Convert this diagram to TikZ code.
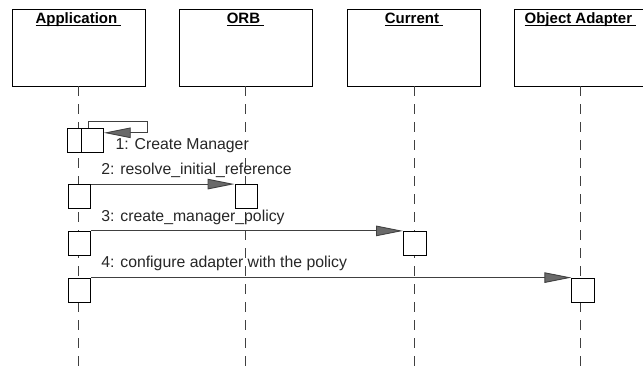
\documentclass[tikz,border=0pt]{standalone}
\usepackage{fontspec}
\setmainfont{Liberation Sans}
\usetikzlibrary{arrows.meta, positioning}
\definecolor{LineGray}{HTML}{404040}
\definecolor{HeadGray}{HTML}{6A6A6A}
\definecolor{TextGray}{HTML}{262626}

\newcommand{\headname}[1]{\underline{\raisebox{0pt}[\height][0pt]{#1~}}}

\tikzset{
  headbox/.style={draw=black, line width=0.9pt, minimum width=133pt, minimum height=77pt, inner sep=0pt},
  headtitle/.style={font=\fontsize{15}{18}\selectfont\bfseries, inner sep=0pt, anchor=base},
  actbox/.style={draw=black, line width=0.8pt, fill=white, inner sep=0pt, minimum width=22.5pt, minimum height=24pt},
  lifeline/.style={LineGray, line width=1pt, dash pattern=on 10pt off 8pt},
  msg/.style={LineGray, line width=0.9pt, -{Triangle[length=27pt, width=10.5pt, fill=HeadGray]}},
  msglabel/.style={font=\fontsize{15.8}{18}\selectfont, text=TextGray, inner sep=0pt, anchor=base west}
}

\begin{document}
\begin{tikzpicture}[x=1pt, y=-1pt]
  \useasboundingbox (0,0) rectangle (643,369);
  % Objects and lifelines
  \foreach \name/\x/\title in {app/78.5/Application, orb/245.5/ORB, cur/414/Current, oa/580.5/Object Adapter}{
    \node[headbox] (\name) at (\x,47.5) {};
    \node[headtitle] (\name-t) at (\x,24) {\headname{\title}};
    \coordinate (\name-end) at (\x,369);
    \draw[lifeline] (\name.south) -- (\name-end);
  }
  % Activations
  \node[actbox, minimum width=14pt] (act1a) at (74.7,140.5) {};
  \node[actbox, minimum width=21.6pt] (act1b) at (92.5,140.5) {};
  \node[actbox] (act2s) at (79.2,196.5) {};
  \node[actbox] (act2t) at (246.2,196.5) {};
  \node[actbox] (act3s) at (79.2,243.3) {};
  \node[actbox] (act3t) at (414.7,243.3) {};
  \node[actbox] (act4s) at (79.2,290) {};
  \node[actbox] (act4t) at (583,290) {};
  % Messages
  \coordinate (loop) at (147.7,121.7);
  \draw[msg] ([xshift=-4pt]act1b.north) |- (loop) |- ([yshift=-4.7pt]act1b.north east);
  \draw[msg] (act2s.north east) -- (act2t.north west);
  \draw[msg] (act3s.north east) -- (act3t.north west);
  \draw[msg] (act4s.north east) -- (act4t.north west);
  % Labels
  \node[msglabel] (m1) at ([xshift=11.7pt, yshift=3.7pt]act1b.south east) {1: Create Manager};
  \node[msglabel] (m2) at ([xshift=10.3pt, yshift=10pt]act2s.north east) {2: resolve\_initial\_reference};
  \node[msglabel] (m3) at ([xshift=10.3pt, yshift=9.5pt]act3s.north east) {3: create\_manager\_policy};
  \node[msglabel] (m4) at ([xshift=10.3pt, yshift=10pt]act4s.north east) {4: configure adapter with the policy};
\end{tikzpicture}
\end{document}
